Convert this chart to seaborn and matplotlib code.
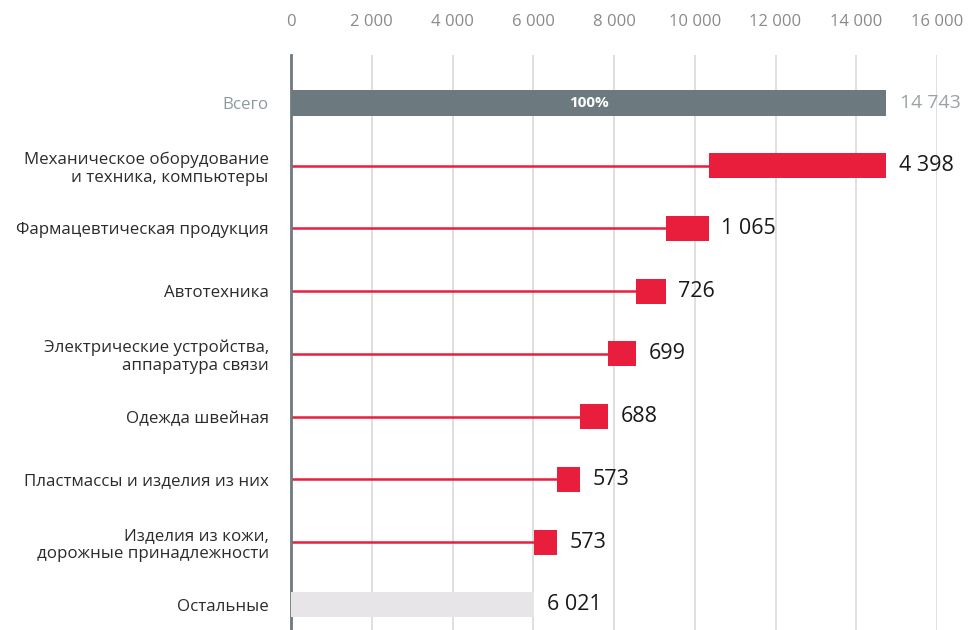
import numpy as np
import pandas as pd
import matplotlib
matplotlib.use("Agg")
import matplotlib.pyplot as plt
import matplotlib.ticker as mticker
import seaborn as sns

sns.set_theme(style="white")
plt.rcParams["font.family"] = ["Open Sans", "DejaVu Sans"]

# ── DATA ─────────────────────────────────────────────────────────────────────
categories = ["Всего",
              "Механическое оборудование\nи техника, компьютеры",
              "Фармацевтическая продукция",
              "Автотехника",
              "Электрические устройства,\nаппаратура связи",
              "Одежда швейная",
              "Пластмассы и изделия из них",
              "Изделия из кожи,\nдорожные принадлежности",
              "Остальные"]
total = 14743
parts = [4398, 1065, 726, 699, 688, 573, 573]
rest = 6021
x_ticks = [0, 2000, 4000, 6000, 8000, 10000, 12000, 14000, 16000]

C_TOTAL = "#6c7a80"
C_RED = "#e81e3c"
C_REST = "#e7e5e8"

# waterfall positions: each part hangs off the running remainder
ends = total - np.concatenate([[0], np.cumsum(parts)[:-1]])
starts = ends - np.array(parts)

fig = plt.figure(figsize=(9.7, 6.3), dpi=100)
ax = fig.add_axes([0.3, 0.0, 0.666, 0.9127])

for xt in x_ticks[1:]:
    ax.axvline(xt, color="#dcdcdc", lw=1.3, zorder=0)

ypos = np.arange(len(categories))
h = 0.4
fmt = lambda v: f"{int(v):,}".replace(",", " ")

# total
ax.barh(0, total, height=h, color=C_TOTAL, lw=0, zorder=3)
ax.text(total / 2, 0, "100%", color="white", fontsize=11, fontweight="bold",
        ha="center", va="center", zorder=4)
ax.annotate(fmt(total), (total, 0), xytext=(10, 0),
            textcoords="offset points", va="center", ha="left",
            fontsize=14, color="#9aa2a6")

# parts
seg = pd.DataFrame({"y": ypos[1:-1], "start": starts, "end": ends, "val": parts})
for _, r in seg.iterrows():
    ax.hlines(r["y"], 0, r["start"], color=C_RED, lw=1.8, zorder=2)
    ax.barh(r["y"], r["val"], left=r["start"], height=h, color=C_RED, lw=0, zorder=3)
    ax.annotate(fmt(r["val"]), (r["end"], r["y"]),
                xytext=(9, 0), textcoords="offset points", va="center",
                ha="left", fontsize=15.5, color="#1a1a1a")

# rest
ax.barh(ypos[-1], rest, height=h, color=C_REST, lw=0, zorder=3)
ax.annotate(fmt(rest), (rest, ypos[-1]), xytext=(9, 0),
            textcoords="offset points", va="center", ha="left",
            fontsize=15.5, color="#1a1a1a")

ax.set_xlim(0, 16000)
ax.set_ylim(8.4, -0.765)
ax.set_yticks(ypos)
ax.set_yticklabels(categories, fontsize=12.2, color="#2b2b2b", linespacing=1.15)
ax.get_yticklabels()[0].set_color("#8f989d")
ax.tick_params(axis="y", length=0, pad=16)

ax.xaxis.tick_top()
ax.set_xticks(x_ticks)
ax.xaxis.set_major_formatter(mticker.FuncFormatter(lambda v, _: fmt(v)))
ax.tick_params(axis="x", length=0, pad=18, labelsize=12, labelcolor="#8a8a8a")

for s in ["top", "right", "bottom"]:
    ax.spines[s].set_visible(False)
ax.spines["left"].set_color(C_TOTAL)
ax.spines["left"].set_linewidth(2)
ax.set_facecolor("white")

fig.savefig("out.png", dpi=100, facecolor="white")
